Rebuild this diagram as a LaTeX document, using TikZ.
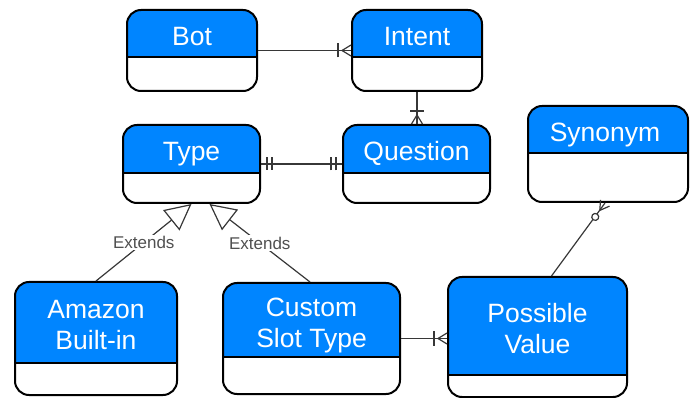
\documentclass[tikz,border=0pt]{standalone}
\usepackage{fontspec}
\setmainfont{Liberation Sans}
\usetikzlibrary{arrows.meta,calc}
\definecolor{erblue}{RGB}{0,133,255}
\definecolor{linegray}{RGB}{55,55,55}
\definecolor{extgray}{RGB}{80,80,80}
\begin{document}
\begin{tikzpicture}[x=1pt,y=-1pt,
  ent/.style={draw=black, line width=2pt, rounded corners=14pt, inner sep=0pt,
    path picture={\fill[erblue, sharp corners] (path picture bounding box.north west) rectangle ([yshift=-#1]path picture bounding box.north east);
      \draw[black, line width=2pt, sharp corners] ([yshift=-#1]path picture bounding box.north west) -- ([yshift=-#1]path picture bounding box.north east);}},
  lbl/.style={text=white, font=\fontsize{26.5}{31}\selectfont, inner sep=0pt, align=center},
  conn/.style={draw=linegray, line width=1.2pt},
  ext/.style={fill=white, text=extgray, font=\fontsize{17}{20}\selectfont, inner sep=1.5pt},
  pics/many/.style={code={\draw[conn] (9,0) -- (0,5.5) (9,0) -- (0,-5.5);}},
  pics/onebar/.style={code={\draw[conn] (13,-7) -- (13,7);}},
  pics/twobar/.style={code={\draw[conn] (6,-6.5) -- (6,6.5) (11,-6.5) -- (11,6.5);}},
  pics/zerocirc/.style={code={\draw[conn,fill=white] (17,0) circle (3.5pt);}}
]
\useasboundingbox (0,0) rectangle (694,398);

% entities
\node[ent=47pt, minimum width=130pt, minimum height=81pt] (bot) at (192,50.5) {};
\node[ent=47pt, minimum width=130pt, minimum height=81pt] (intent) at (417,50.5) {};
\node[ent=48pt, minimum width=137pt, minimum height=78pt] (type) at (191.5,164) {};
\node[ent=48pt, minimum width=147pt, minimum height=78pt] (question) at (416.5,164) {};
\node[ent=47pt, minimum width=160pt, minimum height=96pt] (syn) at (608,154) {};
\node[ent=81pt, minimum width=162pt, minimum height=113pt] (amazon) at (96,338.5) {};
\node[ent=74pt, minimum width=177pt, minimum height=111pt] (custom) at (311.5,338.5) {};
\node[ent=98pt, minimum width=179pt, minimum height=120pt] (pv) at (537.5,337) {};

% labels (base = baseline of last line)
\node[lbl, anchor=base] (botT) at (192,46) {Bot};
\node[lbl, anchor=base] (intentT) at (417,46) {Intent};
\node[lbl, anchor=base] (typeT) at (191.5,161) {Type};
\node[lbl, anchor=base] (questionT) at (416.5,161) {Question};
\node[lbl, anchor=base] (synT) at (605,142) {Synonym};
\node[lbl, anchor=base] (amazonT) at (96,349) {Amazon\\Built-in};
\node[lbl, anchor=base] (customT) at (311.5,347) {Custom\\Slot Type};
\node[lbl, anchor=base] (pvT) at (537.5,353) {Possible\\Value};

% connectors
\draw[conn] (bot.east) -- (intent.west);
\pic[rotate=180] at (intent.west) {many};
\pic[rotate=180] at (intent.west) {onebar};

\coordinate (qtop) at (intent.south |- question.north);
\draw[conn] (intent.south) -- (qtop);
\pic[rotate=90] at (qtop) {many};
\pic[rotate=90] at (qtop) {onebar};

\draw[conn] (type.east) -- (question.west);
\pic at (type.east) {twobar};
\pic[rotate=180] at (question.west) {twobar};

\coordinate (pvleft) at (custom.east -| pv.west);
\draw[conn] (custom.east) -- (pvleft);
\pic[rotate=180] at (pvleft) {many};
\pic[rotate=180] at (pvleft) {onebar};

\coordinate (pvtop) at ([xshift=14pt]pv.north);
\coordinate (synbot) at ([xshift=-3pt]syn.south);
\draw[conn] (pvtop) -- (synbot);
\pic[rotate=-125] at (synbot) {many};
\pic[rotate=-125] at (synbot) {zerocirc};

\coordinate (typeA) at (type.south);
\coordinate (typeB) at ([xshift=18pt]type.south);
\draw[conn, -{Triangle[open, length=26pt, width=26pt]}] (amazon.north) -- node[ext] (ext1) {Extends} (typeA);
\draw[conn, -{Triangle[open, length=26pt, width=26pt]}] ([xshift=-1.5pt]custom.north) -- node[ext] (ext2) {Extends} (typeB);
\end{tikzpicture}
\end{document}
